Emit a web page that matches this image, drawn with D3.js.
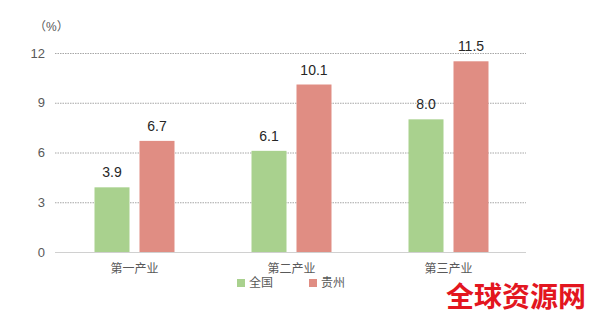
<!DOCTYPE html>
<html>
<head>
<meta charset="utf-8">
<script src="https://cdn.jsdelivr.net/npm/d3@7"></script>
<style>
  body { margin: 0; background: #fff; }
  svg { display: block; font-family: "Liberation Sans", Arial, "Noto Sans CJK SC", sans-serif; }
</style>
</head>
<body>
<svg id="chart" width="600" height="316"></svg>
<script>
const categories = ["第一产业", "第二产业", "第三产业"];
const seriesNames = ["全国", "贵州"];
const national = [3.9, 6.1, 8.0];
const guizhou = [6.7, 10.1, 11.5];
const yTicks = [0, 3, 6, 9, 12];
const colors = ["#a9d18e", "#e08d83"];

const svg = d3.select("#chart");
const margin = { top: 53, right: 74, bottom: 64, left: 55 };
const width = +svg.attr("width");
const height = +svg.attr("height");

const x = d3.scaleBand()
  .domain(categories)
  .range([margin.left, width - margin.right])
  .paddingInner(0)
  .paddingOuter(0);

const xInner = d3.scaleBand()
  .domain(seriesNames)
  .range([0, 80])
  .paddingInner(0.222);

const y = d3.scaleLinear()
  .domain([0, 12])
  .range([height - margin.bottom, margin.top]);

// gridlines
svg.append("g")
  .selectAll("line")
  .data(yTicks.filter(d => d > 0))
  .join("line")
  .attr("x1", margin.left)
  .attr("x2", width - margin.right)
  .attr("y1", d => y(d) + 0.5)
  .attr("y2", d => y(d) + 0.5)
  .attr("stroke", "#a6a6a6")
  .attr("stroke-width", 1)
  .attr("stroke-dasharray", "1.5,1");

// y tick labels
svg.append("g")
  .selectAll("text")
  .data(yTicks)
  .join("text")
  .attr("x", 45)
  .attr("y", d => y(d))
  .attr("dy", "0.35em")
  .attr("text-anchor", "end")
  .attr("font-size", 13)
  .attr("fill", "#595959")
  .text(d => d);

svg.append("text")
  .attr("x", 34)
  .attr("y", 27)
  .attr("dy", "0.35em")
  .attr("font-size", 12)
  .attr("fill", "#595959")
  .text("（%）");

const rows = categories.map((c, i) => ({ cat: c, values: [national[i], guizhou[i]] }));

const groups = svg.append("g")
  .selectAll("g")
  .data(rows)
  .join("g")
  .attr("transform", d => `translate(${x(d.cat) + x.bandwidth() / 2 - 39},0)`);

groups.selectAll("rect")
  .data(d => d.values.map((v, j) => ({ key: seriesNames[j], v, j })))
  .join("rect")
  .attr("x", d => xInner(d.key))
  .attr("y", d => y(d.v))
  .attr("width", xInner.bandwidth())
  .attr("height", d => y(0) - y(d.v))
  .attr("fill", d => colors[d.j]);

groups.selectAll("text")
  .data(d => d.values.map((v, j) => ({ key: seriesNames[j], v, j })))
  .join("text")
  .attr("x", d => xInner(d.key) + xInner.bandwidth() / 2)
  .attr("y", d => y(d.v) - 10)
  .attr("text-anchor", "middle")
  .attr("font-size", 14)
  .attr("fill", "#262626")
  .text(d => d.v.toFixed(1));

// baseline
svg.append("line")
  .attr("x1", margin.left)
  .attr("x2", width - margin.right)
  .attr("y1", y(0) + 0.5)
  .attr("y2", y(0) + 0.5)
  .attr("stroke", "#d0d0d0")
  .attr("stroke-width", 1);

// category labels
svg.append("g")
  .selectAll("text")
  .data(categories)
  .join("text")
  .attr("x", d => x(d) + x.bandwidth() / 2 + 1)
  .attr("y", y(0) + 17)
  .attr("dy", "0.35em")
  .attr("text-anchor", "middle")
  .attr("font-size", 12)
  .attr("fill", "#595959")
  .text(d => d);

// legend
const legend = svg.append("g")
  .selectAll("g")
  .data(seriesNames)
  .join("g")
  .attr("transform", (d, i) => `translate(${237 + i * 72},283)`);

legend.append("rect")
  .attr("x", 0)
  .attr("y", -4)
  .attr("width", 8)
  .attr("height", 8)
  .attr("fill", (d, i) => colors[i]);

legend.append("text")
  .attr("x", 12)
  .attr("y", 0)
  .attr("dy", "0.35em")
  .attr("font-size", 12)
  .attr("fill", "#595959")
  .text(d => d);

// watermark
svg.append("text")
  .attr("x", 586)
  .attr("y", 297)
  .attr("dy", "0.35em")
  .attr("text-anchor", "end")
  .attr("font-size", 28)
  .attr("font-weight", "bold")
  .attr("fill", "#e3161f")
  .attr("font-family", "Noto Sans CJK SC, sans-serif")
  .text("全球资源网");
</script>
</body>
</html>
